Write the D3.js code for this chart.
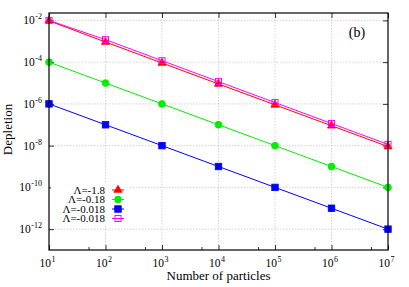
<!DOCTYPE html>
<html>
<head>
<meta charset="utf-8">
<script src="https://cdn.jsdelivr.net/npm/d3@7"></script>
<style>
  body { margin: 0; background: #fff; }
  svg { display: block; }
</style>
</head>
<body>
<div id="chart"></div>
<script>
const width = 409;
const height = 287;
const margin = { top: 13, right: 21, bottom: 37, left: 49 };
const innerWidth = width - margin.left - margin.right;
const innerHeight = height - margin.top - margin.bottom;
const font = '"Liberation Serif", "Times New Roman", serif';

// data
const particles = [1e1, 1e2, 1e3, 1e4, 1e5, 1e6, 1e7];
const depletionA = [9.6e-3, 9.2e-4, 9.1e-5, 9.0e-6, 9.0e-7, 9.0e-8, 9.0e-9];
const depletionB = [1.0e-4, 1.0e-5, 1.0e-6, 1.0e-7, 1.0e-8, 1.0e-9, 1.0e-10];
const depletionC = [1.0e-6, 1.0e-7, 1.0e-8, 1.0e-9, 1.0e-10, 1.0e-11, 1.0e-12];
const depletionD = [1.0e-2, 1.2e-3, 1.18e-4, 1.17e-5, 1.16e-6, 1.15e-7, 1.15e-8];
const seriesLabels = ["Λ=-1.8", "Λ=-0.18", "Λ=-0.018", "Λ=-0.018"];
const xTickExp = [1, 2, 3, 4, 5, 6, 7];
const yTickExp = [-2, -4, -6, -8, -10, -12];
const xMinor = [5e1, 5e2, 5e3, 5e4, 5e5, 5e6];

const series = [
    { name: seriesLabels[0], values: depletionA, color: "#ff0000", marker: "triangle", fill: true },
    { name: seriesLabels[1], values: depletionB, color: "#00ee00", marker: "circle", fill: true },
    { name: seriesLabels[2], values: depletionC, color: "#0000ff", marker: "square", fill: true },
    { name: seriesLabels[3], values: depletionD, color: "#ff00ff", marker: "square", fill: false }
];

const svg = d3.select('#chart')
    .append('svg')
    .attr('width', width)
    .attr('height', height);

// scales in absolute page coordinates
const xScale = d3.scaleLog()
    .domain([1e1, 1e7])
    .range([margin.left, margin.left + innerWidth]);

const yScale = d3.scaleLog()
    .domain([1e-13, Math.pow(10, -1.645)])
    .range([margin.top + innerHeight, margin.top]);

const x0 = margin.left, x1 = margin.left + innerWidth;
const y0 = margin.top, y1 = margin.top + innerHeight;

// grid
svg.append('g').selectAll('line')
    .data(xTickExp.slice(1, -1))
    .enter().append('line')
    .attr('x1', d => xScale(Math.pow(10, d)))
    .attr('x2', d => xScale(Math.pow(10, d)))
    .attr('y1', y0).attr('y2', y1)
    .attr('stroke', '#c8c8c8').attr('stroke-width', 0.8)
    .attr('stroke-dasharray', '1.5,1.5');

svg.append('g').selectAll('line')
    .data(yTickExp)
    .enter().append('line')
    .attr('x1', x0).attr('x2', x1)
    .attr('y1', d => yScale(Math.pow(10, d)))
    .attr('y2', d => yScale(Math.pow(10, d)))
    .attr('stroke', '#c8c8c8').attr('stroke-width', 0.8)
    .attr('stroke-dasharray', '1.5,1.5');

// axes with inward ticks
const xMajor = xTickExp.map(e => Math.pow(10, e));
const yMajor = yTickExp.map(e => Math.pow(10, e));
const axes = svg.append('g');
axes.append('g').attr('transform', `translate(0,${y1})`)
    .call(d3.axisBottom(xScale).tickValues(xMajor).tickSize(-5).tickFormat(''));
axes.append('g').attr('transform', `translate(0,${y1})`)
    .call(d3.axisBottom(xScale).tickValues(xMinor).tickSize(-3).tickFormat(''));
axes.append('g').attr('transform', `translate(0,${y0})`)
    .call(d3.axisTop(xScale).tickValues(xMajor).tickSize(-5).tickFormat(''));
axes.append('g').attr('transform', `translate(${x0},0)`)
    .call(d3.axisLeft(yScale).tickValues(yMajor).tickSize(-5).tickFormat(''));
axes.append('g').attr('transform', `translate(${x1},0)`)
    .call(d3.axisRight(yScale).tickValues(yMajor).tickSize(-5).tickFormat(''));
axes.selectAll('.domain').remove();
axes.selectAll('.tick text').remove();
axes.selectAll('.tick line').attr('stroke', '#000').attr('stroke-width', 0.8);

// tick labels: base "10" and exponent as separate texts
const labels = svg.append('g').attr('font-family', font).attr('fill', '#000');
xTickExp.forEach(e => {
    const x = xScale(Math.pow(10, e));
    labels.append('text')
        .attr('x', x + 2).attr('y', y1 + 17)
        .attr('text-anchor', 'end')
        .attr('font-size', 11.5)
        .text('10');
    labels.append('text')
        .attr('x', x + 2.5).attr('y', y1 + 12)
        .attr('text-anchor', 'start')
        .attr('font-size', 8)
        .text(e);
});

yTickExp.forEach(e => {
    const y = yScale(Math.pow(10, e));
    const ex = labels.append('text')
        .attr('x', x0 - 7).attr('y', y - 1)
        .attr('text-anchor', 'end')
        .attr('font-size', 8)
        .text(e);
    const w = ex.node().getComputedTextLength();
    labels.append('text')
        .attr('x', x0 - 7.5 - w).attr('y', y + 4)
        .attr('text-anchor', 'end')
        .attr('font-size', 11.5)
        .text('10');
});

labels.append('text')
    .attr('x', (x0 + x1) / 2)
    .attr('y', 280)
    .attr('text-anchor', 'middle')
    .attr('font-size', 13)
    .text('Number of particles');

labels.append('text')
    .attr('transform', `translate(12,${(y0 + y1) / 2 - 2}) rotate(-90)`)
    .attr('text-anchor', 'middle')
    .attr('font-size', 13)
    .text('Depletion');

labels.append('text')
    .attr('x', 357)
    .attr('y', 37)
    .attr('text-anchor', 'middle')
    .attr('font-size', 14)
    .text('(b)');

// markers
function drawMarker(sel, s, x, y) {
    const fill = s.fill ? s.color : '#fff';
    if (s.marker === 'triangle') {
        sel.append('path')
            .attr('d', d3.symbol(d3.symbolTriangle, 28)())
            .attr('transform', `translate(${x},${y})`)
            .attr('fill', fill).attr('stroke', s.color).attr('stroke-width', 0.8);
    } else if (s.marker === 'circle') {
        sel.append('circle')
            .attr('cx', x).attr('cy', y).attr('r', 3.4)
            .attr('fill', fill).attr('stroke', s.color).attr('stroke-width', 0.8);
    } else {
        const sz = s.fill ? 6.5 : 6;
        sel.append('rect')
            .attr('x', x - sz / 2).attr('y', y - sz / 2)
            .attr('width', sz).attr('height', sz)
            .attr('fill', s.fill ? s.color : 'none')
            .attr('stroke', s.color).attr('stroke-width', s.fill ? 0.8 : 1);
    }
}

const line = d3.line()
    .x(d => xScale(d[0]))
    .y(d => yScale(d[1]));

series.forEach(s => {
    const pts = particles.map((p, i) => [p, s.values[i]]);
    const sg = svg.append('g');
    sg.append('path')
        .attr('d', line(pts))
        .attr('fill', 'none')
        .attr('stroke', s.color)
        .attr('stroke-width', 1);
    pts.forEach(p => drawMarker(sg, s, xScale(p[0]), yScale(p[1])));
});

// legend with opaque background
const legend = svg.append('g');
legend.append('rect')
    .attr('x', x0 + 2).attr('y', y0 + 171)
    .attr('width', 78).attr('height', 40)
    .attr('fill', '#fff');

series.forEach((s, i) => {
    const ly = y0 + 177 + i * 9.5;
    legend.append('text')
        .attr('x', x0 + 56)
        .attr('y', ly + 3.5)
        .attr('text-anchor', 'end')
        .attr('font-family', font)
        .attr('font-size', 11)
        .attr('fill', '#000')
        .text(s.name);
    legend.append('line')
        .attr('x1', x0 + 63).attr('x2', x0 + 75)
        .attr('y1', ly).attr('y2', ly)
        .attr('stroke', s.color).attr('stroke-width', 1);
    drawMarker(legend, s, x0 + 69, ly);
});

// frame
svg.append('rect')
    .attr('x', x0).attr('y', y0)
    .attr('width', innerWidth)
    .attr('height', innerHeight)
    .attr('fill', 'none')
    .attr('stroke', '#000')
    .attr('stroke-width', 1.2);
</script>
</body>
</html>
